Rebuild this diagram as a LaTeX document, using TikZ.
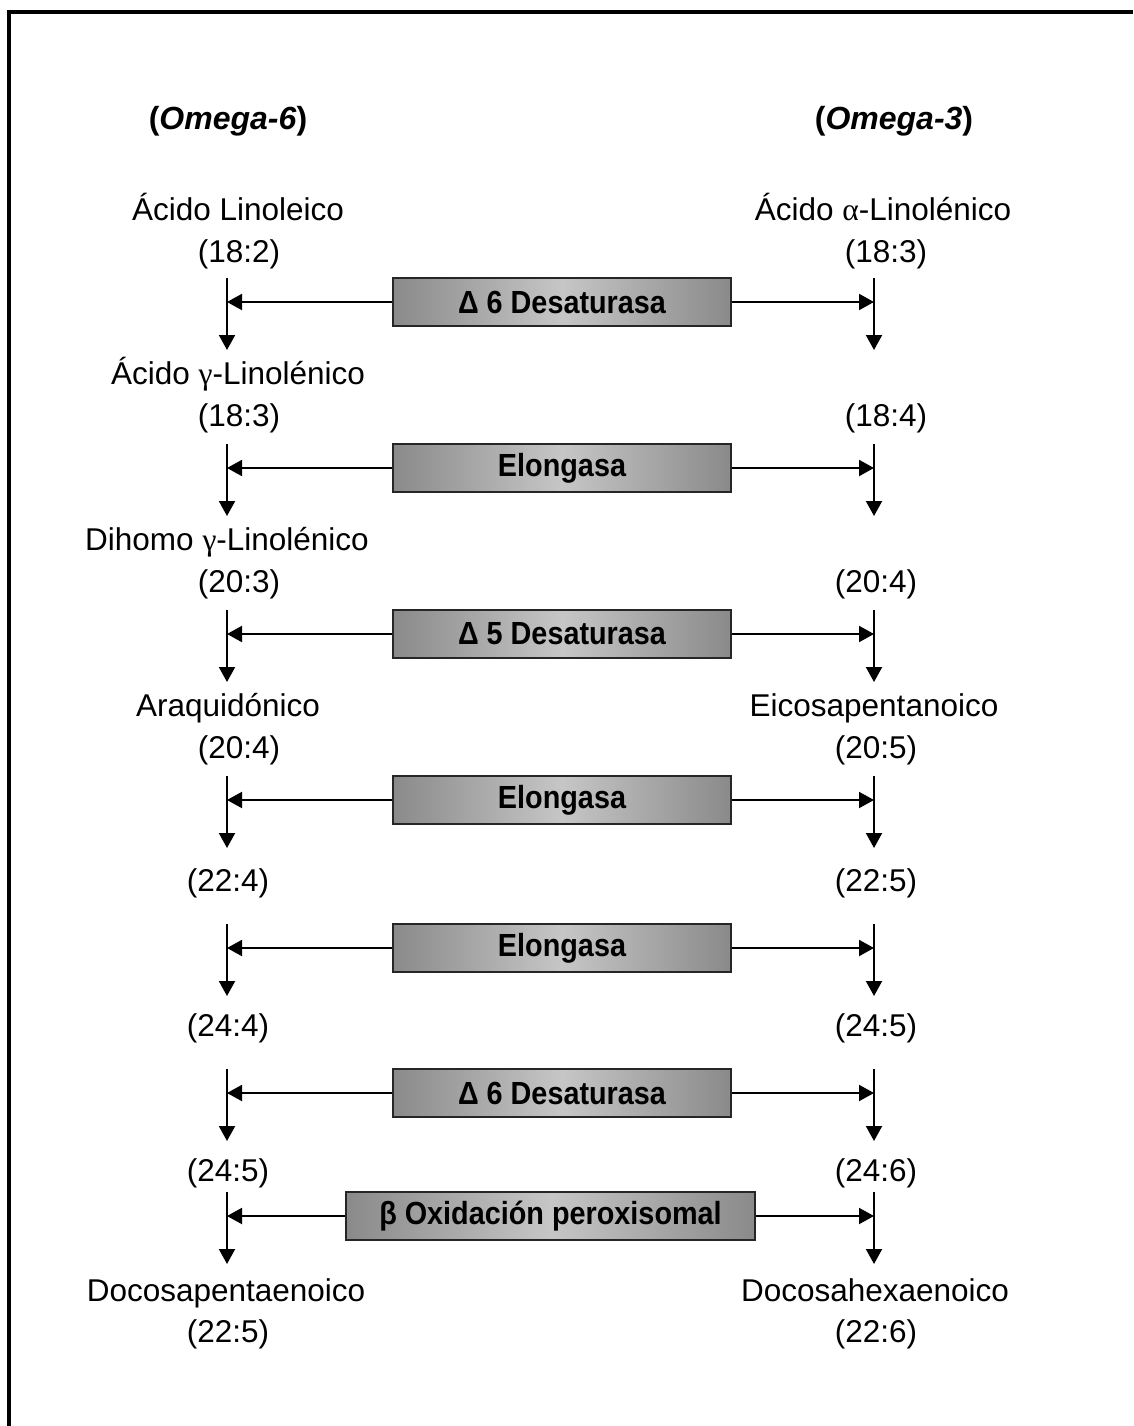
\documentclass[tikz,border=0pt]{standalone}
\usepackage{graphicx}
\usepackage{fontspec}
\setmainfont{Liberation Sans}
\newfontfamily\greekserif{Liberation Serif}
\usetikzlibrary{arrows.meta}

\definecolor{boxedge}{RGB}{138,138,138}
\definecolor{boxmid}{RGB}{198,198,198}

% slightly condensed bold label for the enzyme boxes
\newcommand\enzlabel[1]{\scalebox{0.9}[1]{#1}}

\begin{document}
\begin{tikzpicture}[x=1pt,y=-1pt,
  acid/.style={anchor=base, inner sep=0pt, font=\fontsize{31.5}{42}\selectfont},
  omega/.style={anchor=base, inner sep=0pt, font=\bfseries\fontsize{32}{40}\selectfont},
  enzyme/.style={draw=black!85, line width=1.6pt, minimum height=48pt, inner sep=0pt,
    font=\bfseries\fontsize{32}{38}\selectfont,
    left color=boxedge, right color=boxedge, middle color=boxmid},
  flow/.style={line width=2pt, -{Triangle[length=15pt,width=16pt]}},
]
\useasboundingbox (0,0) rectangle (1133,1426);

% frame: top and left rules only
\draw[line width=4pt, line join=miter] (9,1426) -- (9,12) -- (1133,12);

% column headings
\node[omega] (h6) at (228,129) {(\textit{Omega-6})};
\node[omega] (h3) at (894,129) {(\textit{Omega-3})};

% omega-6 series
\node[acid] (a1) at (238,220) {Ácido Linoleico};
\node[acid] (a1n) at (239,262) {(18:2)};
\node[acid] (a2) at (238,384) {Ácido {\greekserif γ}-Linolénico};
\node[acid] (a2n) at (239,426) {(18:3)};
\node[acid] (a3) at (227,550) {Dihomo {\greekserif γ}-Linolénico};
\node[acid] (a3n) at (239,592) {(20:3)};
\node[acid] (a4) at (228,716) {Araquidónico};
\node[acid] (a4n) at (239,758) {(20:4)};
\node[acid] (a5n) at (228,891) {(22:4)};
\node[acid] (a6n) at (228,1036) {(24:4)};
\node[acid] (a7n) at (228,1181) {(24:5)};
\node[acid] (a8) at (226,1301) {Docosapentaenoico};
\node[acid] (a8n) at (228,1342) {(22:5)};

% omega-3 series
\node[acid] (b1) at (883,220) {Ácido {\greekserif α}-Linolénico};
\node[acid] (b1n) at (886,262) {(18:3)};
\node[acid] (b2n) at (886,426) {(18:4)};
\node[acid] (b3n) at (876,592) {(20:4)};
\node[acid] (b4) at (874,716) {Eicosapentanoico};
\node[acid] (b4n) at (876,758) {(20:5)};
\node[acid] (b5n) at (876,891) {(22:5)};
\node[acid] (b6n) at (876,1036) {(24:5)};
\node[acid] (b7n) at (876,1181) {(24:6)};
\node[acid] (b8) at (875,1301) {Docosahexaenoico};
\node[acid] (b8n) at (876,1342) {(22:6)};

% enzymes
\node[enzyme, minimum width=338pt] (e1) at (562,302) {\enzlabel{Δ 6 Desaturasa}};
\node[enzyme, minimum width=338pt] (e2) at (562,468) {\enzlabel{Elongasa}};
\node[enzyme, minimum width=338pt] (e3) at (562,634) {\enzlabel{Δ 5 Desaturasa}};
\node[enzyme, minimum width=338pt] (e4) at (562,800) {\enzlabel{Elongasa}};
\node[enzyme, minimum width=338pt] (e5) at (562,948) {\enzlabel{Elongasa}};
\node[enzyme, minimum width=338pt] (e6) at (562,1093) {\enzlabel{Δ 6 Desaturasa}};
\node[enzyme, minimum width=409pt] (e7) at (550.5,1216) {\enzlabel{β Oxidación peroxisomal}};

% conversion steps: vertical flow in each column, enzyme acting on both
\foreach \h/\i in {302/1,468/2,634/3,800/4,948/5,1093/6,1216/7} {
  \coordinate (L\i t) at (227,\h-24);
  \coordinate (L\i m) at (227,\h);
  \coordinate (L\i b) at (227,\h+48);
  \coordinate (R\i t) at (874,\h-24);
  \coordinate (R\i m) at (874,\h);
  \coordinate (R\i b) at (874,\h+48);
  \draw[flow] (L\i t) -- (L\i b);
  \draw[flow] (R\i t) -- (R\i b);
  \draw[flow] (e\i.west) -- (L\i m);
  \draw[flow] (e\i.east) -- (R\i m);
}
\end{tikzpicture}
\end{document}
